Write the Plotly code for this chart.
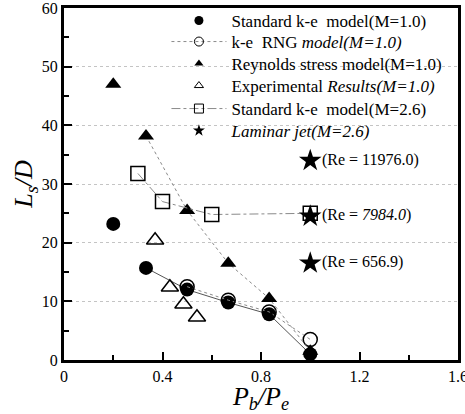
import plotly.graph_objects as go

# Data
ske10_x = [0.2, None, 0.333, 0.5, 0.667, 0.833, 1.0]
ske10_y = [23.2, None, 15.7, 12.0, 9.8, 7.8, 1.0]
rng_x = [0.5, 0.667, 0.833, 1.0]
rng_y = [12.5, 10.2, 8.2, 3.5]
rsm_x = [0.2, None, 0.333, 0.5, 0.667, 0.833, 1.0]
rsm_y = [47.0, None, 38.2, 25.5, 16.5, 10.5, 1.5]
exp_x = [0.37, 0.43, 0.485, 0.54]
exp_y = [20.4, 12.4, 9.5, 7.3]
ske26_x = [0.3, 0.4, 0.6, 1.0]
ske26_y = [31.8, 27.0, 24.8, 25.0]
lam_x = [1.0, 1.0, 1.0]
lam_y = [34.0, 24.5, 16.5]
lam_labels = ["(Re = 11976.0)", "(Re = <i>7984.0</i>)", "(Re = 656.9)"]

x_ticks = [0, 0.4, 0.8, 1.2, 1.6]
y_ticks = [0, 10, 20, 30, 40, 50, 60]

SERIF = "Liberation Serif"
GRAY = "#8a8a8a"

names = ["Standard k-e  model(M=1.0)", "k-e  RNG <i>model(M=1.0)</i>",
         "Reynolds stress model(M=1.0)", "Experimental <i>Results(M=1.0)</i>",
         "Standard k-e  model(M=2.6)", "<i>Laminar jet(M=2.6)</i>"]

fig = go.Figure()
fig.add_trace(go.Scatter(x=ske10_x, y=ske10_y, mode="lines+markers", showlegend=False,
                         line=dict(color="#555", width=1),
                         marker=dict(symbol="circle", size=14, color="black")))
fig.add_trace(go.Scatter(x=rng_x, y=rng_y, mode="lines+markers", showlegend=False,
                         line=dict(color=GRAY, width=1, dash="dot"),
                         marker=dict(symbol="circle-open", size=14, color="black", line=dict(width=1.5))))
fig.add_trace(go.Scatter(x=rsm_x, y=rsm_y, mode="lines+markers", showlegend=False,
                         line=dict(color=GRAY, width=1, dash="dot"),
                         marker=dict(symbol="triangle-up", size=14, color="black")))
fig.add_trace(go.Scatter(x=exp_x, y=exp_y, mode="markers", showlegend=False,
                         marker=dict(symbol="triangle-up-open", size=15, color="black", line=dict(width=1.5))))
fig.add_trace(go.Scatter(x=ske26_x, y=ske26_y, mode="lines+markers", showlegend=False,
                         line=dict(color=GRAY, width=1, dash="dashdot"),
                         marker=dict(symbol="square-open", size=14, color="black", line=dict(width=1.5))))
fig.add_trace(go.Scatter(x=lam_x, y=lam_y, mode="markers+text", showlegend=False,
                         text=lam_labels, textposition="middle right",
                         textfont=dict(family=SERIF, size=16, color="black"),
                         marker=dict(symbol="star", size=17, color="black")))

# legend-only entries with small symbols, one legend per row for exact spacing
leg_specs = [
    ("markers", dict(symbol="circle", size=9, color="black"), None),
    ("lines+markers", dict(symbol="circle-open", size=9, color="black", line=dict(width=1)), dict(color=GRAY, width=1, dash="dot")),
    ("markers", dict(symbol="triangle-up", size=8, color="black"), None),
    ("markers", dict(symbol="triangle-up-open", size=8, color="black", line=dict(width=1)), None),
    ("lines+markers", dict(symbol="square-open", size=9, color="black", line=dict(width=1)), dict(color=GRAY, width=1, dash="dashdot")),
    ("markers", dict(symbol="star", size=9, color="black"), None),
]
leg_ids = ["legend", "legend2", "legend3", "legend4", "legend5", "legend6"]
for nm, (mode, mk, ln), lid in zip(names, leg_specs, leg_ids):
    kw = dict(x=[None], y=[None], mode=mode, name=nm, marker=mk, legend=lid)
    if ln:
        kw["line"] = ln
    fig.add_trace(go.Scatter(**kw))

H = 414
leg_tops_px = [3, 24, 46, 68, 91, 113]
leg_layout = {}
for lid, top in zip(leg_ids, leg_tops_px):
    leg_layout[lid] = dict(x=0.26, xanchor="left", yref="container", y=1 - top / H, yanchor="top",
                           bgcolor="rgba(0,0,0,0)", font=dict(family=SERIF, size=17),
                           tracegroupgap=0, itemwidth=55)

fig.update_layout(
    width=465, height=H,
    margin=dict(l=64, r=7, t=8, b=54, autoexpand=False),
    paper_bgcolor="white", plot_bgcolor="white",
    font=dict(family=SERIF, size=16, color="black"),
    showlegend=True,
    **leg_layout,
)
fig.update_xaxes(range=[0, 1.6], tickvals=x_ticks, ticktext=[str(v) for v in x_ticks],
                 ticks="inside", ticklen=8, tickwidth=2, tickcolor="black",
                 minor=dict(dtick=0.2, ticks="inside", ticklen=5, tickwidth=2, tickcolor="black"),
                 showline=True, linecolor="black", linewidth=3, mirror=True,
                 showgrid=False, zeroline=False, automargin=False,
                 ticklabeloverflow="allow",
                 tickfont=dict(family=SERIF, size=16),
                 title=dict(text="<i>P<sub>b</sub>/P<sub>e</sub></i>", font=dict(family=SERIF, size=26), standoff=2))
fig.update_yaxes(range=[0, 60], tickvals=y_ticks,
                 ticks="inside", ticklen=8, tickwidth=2, tickcolor="black",
                 minor=dict(dtick=5, ticks="inside", ticklen=5, tickwidth=2, tickcolor="black"),
                 showline=True, linecolor="black", linewidth=3, mirror=True,
                 showgrid=True, gridcolor="#c4c4c4", griddash="dot", gridwidth=1,
                 zeroline=False, automargin=False,
                 ticklabeloverflow="allow",
                 tickfont=dict(family=SERIF, size=16),
                 title=dict(text="<i>L<sub>s</sub>/D</i>", font=dict(family=SERIF, size=26), standoff=2))

fig.write_html("out.html")
